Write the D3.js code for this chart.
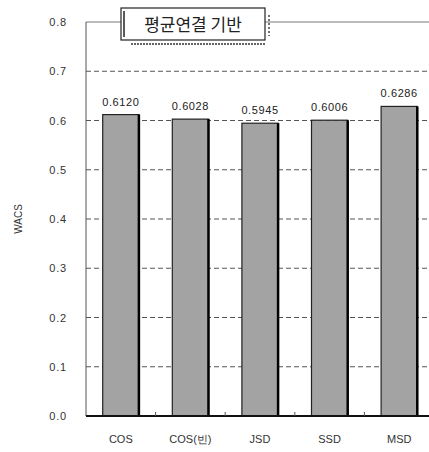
<!DOCTYPE html>
<html><head><meta charset="utf-8">
<script src="https://cdn.jsdelivr.net/npm/d3@7"></script>
<style>body{margin:0;background:#fff}svg{display:block}</style>
</head><body>
<svg id="c" width="429" height="452"></svg>
<script>
const categories = ["COS", "COS(빈)", "JSD", "SSD", "MSD"];
const values = [0.6120, 0.6028, 0.5945, 0.6006, 0.6286];
const valueLabels = ["0.6120", "0.6028", "0.5945", "0.6006", "0.6286"];
const yTicks = [0.0, 0.1, 0.2, 0.3, 0.4, 0.5, 0.6, 0.7, 0.8];
const yTickLabels = ["0.0", "0.1", "0.2", "0.3", "0.4", "0.5", "0.6", "0.7", "0.8"];
const title = "평균연결 기반";
const yTitle = "WACS";

const svg = d3.select("#c");
const L = 86, R = 434, T = 22, B = 416;
const font = "'Liberation Sans', Arial, sans-serif";
const x = d3.scaleBand().domain(categories).range([L, R]).paddingInner(0.48).paddingOuter(0.24);
const y = d3.scaleLinear().domain([0, 0.8]).range([B, T]);

// gridlines
svg.append("g").selectAll("line").data(yTicks.filter(v => v > 0 && v < 0.8)).join("line")
  .attr("x1", L).attr("x2", 429).attr("y1", d => y(d)).attr("y2", d => y(d))
  .attr("stroke", "#555").attr("stroke-width", 1).attr("stroke-dasharray", "5,3");
// top line
svg.append("line").attr("x1", L).attr("x2", 429).attr("y1", y(0.8)).attr("y2", y(0.8))
  .attr("stroke", "#777").attr("stroke-width", 1);
// left axis
svg.append("line").attr("x1", L).attr("x2", L).attr("y1", y(0.8)).attr("y2", B)
  .attr("stroke", "#555").attr("stroke-width", 1);

// bars
const bars = svg.append("g");
bars.selectAll("rect").data(values).join("rect")
  .attr("x", (d, i) => x(categories[i])).attr("y", d => y(d))
  .attr("width", x.bandwidth()).attr("height", d => B - y(d))
  .attr("fill", "#a3a3a3").attr("stroke", "#222").attr("stroke-width", 1.2);
bars.selectAll("line").data(values).join("line")
  .attr("x1", (d, i) => x(categories[i]) + x.bandwidth()).attr("x2", (d, i) => x(categories[i]) + x.bandwidth())
  .attr("y1", d => y(d)).attr("y2", B).attr("stroke", "#000").attr("stroke-width", 2.5);

// value labels
svg.append("g").selectAll("text").data(values).join("text")
  .attr("x", (d, i) => x(categories[i]) + x.bandwidth() / 2).attr("y", d => y(d) - 9)
  .attr("text-anchor", "middle").attr("font-family", font).attr("font-size", 11)
  .attr("letter-spacing", 0.6).attr("fill", "#222").text((d, i) => valueLabels[i]);

// x axis
svg.append("line").attr("x1", L).attr("x2", 429).attr("y1", B).attr("y2", B)
  .attr("stroke", "#111").attr("stroke-width", 2);
svg.append("g").selectAll("line").data(categories.slice(1)).join("line")
  .attr("x1", d => x(d) - x.bandwidth() * 0.48 / 0.52 / 2).attr("x2", d => x(d) - x.bandwidth() * 0.48 / 0.52 / 2)
  .attr("y1", B - 4).attr("y2", B).attr("stroke", "#555");
svg.append("g").selectAll("text").data(categories).join("text")
  .attr("x", d => x(d) + x.bandwidth() / 2).attr("y", B + 27)
  .attr("text-anchor", "middle").attr("font-family", font).attr("font-size", 11)
  .attr("fill", "#333").text(d => d);

// y tick labels
svg.append("g").selectAll("text").data(yTicks).join("text")
  .attr("x", 67).attr("y", d => y(d) + 4).attr("text-anchor", "end")
  .attr("font-family", font).attr("font-size", 11).attr("letter-spacing", 0.8).attr("fill", "#333")
  .text((d, i) => yTickLabels[i]);

// y title
svg.append("text").attr("transform", "translate(22," + y(0.4) + ") rotate(-90)")
  .attr("text-anchor", "middle").attr("font-family", font).attr("font-size", 10)
  .attr("fill", "#333").text(yTitle);

// title box
svg.append("rect").attr("x", 121).attr("y", 8).attr("width", 144).attr("height", 32)
  .attr("fill", "#fff").attr("stroke", "#222").attr("stroke-width", 1.2);
svg.append("line").attr("x1", 124).attr("x2", 124).attr("y1", 11).attr("y2", 37).attr("stroke", "#222").attr("stroke-width", 1.5);
svg.append("text").attr("x", 193).attr("y", 31).attr("text-anchor", "middle")
  .attr("font-family", "'Noto Sans CJK KR', sans-serif").attr("font-size", 17).attr("fill", "#222")
  .text(title);
svg.append("line").attr("x1", 131).attr("x2", 265).attr("y1", 44).attr("y2", 44)
  .attr("stroke", "#666").attr("stroke-width", 2).attr("stroke-dasharray", "2,1");
svg.append("line").attr("x1", 269).attr("x2", 269).attr("y1", 15).attr("y2", 36)
  .attr("stroke", "#444").attr("stroke-width", 1.5).attr("stroke-dasharray", "2,2");
</script>
</body></html>
